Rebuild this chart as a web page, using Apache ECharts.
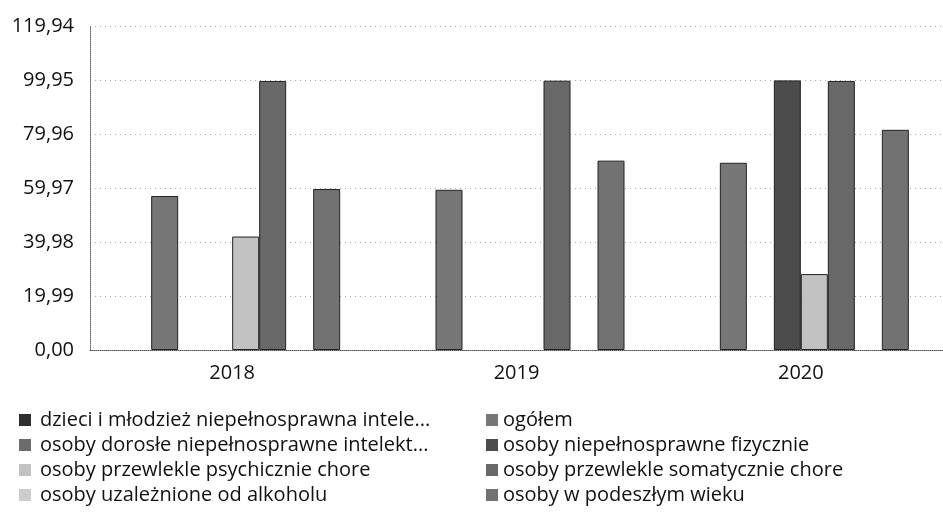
<!DOCTYPE html>
<html>
<head>
<meta charset="utf-8">
<script src="https://cdn.jsdelivr.net/npm/echarts@6/dist/echarts.min.js"></script>
<style>
  html, body { margin: 0; padding: 0; background: #fff; }
  #chart { width: 943px; height: 526px; }
</style>
</head>
<body>
<div id="chart"></div>
<script>
var years = ['2018', '2019', '2020'];
var seriesNames = [
  'dzieci i młodzież niepełnosprawna intelektualnie',
  'ogółem',
  'osoby dorosłe niepełnosprawne intelektualnie',
  'osoby niepełnosprawne fizycznie',
  'osoby przewlekle psychicznie chore',
  'osoby przewlekle somatycznie chore',
  'osoby uzależnione od alkoholu',
  'osoby w podeszłym wieku'
];
var legendLabels = [
  'dzieci i młodzież niepełnosprawna intele...',
  'ogółem',
  'osoby dorosłe niepełnosprawne intelekt...',
  'osoby niepełnosprawne fizycznie',
  'osoby przewlekle psychicznie chore',
  'osoby przewlekle somatycznie chore',
  'osoby uzależnione od alkoholu',
  'osoby w podeszłym wieku'
];
var dzieci = [null, null, null];
var ogolem = [57.0, 59.3, 69.3];
var dorosle = [null, null, null];
var fizycznie = [null, null, 99.8];
var psychicznie = [42.0, null, 28.1];
var somatycznie = [99.6, 99.7, 99.6];
var uzaleznione = [null, null, null];
var podeszly = [59.6, 70.1, 81.5];
var yTicks = [0, 19.99, 39.98, 59.97, 79.96, 99.95, 119.94];

var colors = ['#2e2e2e', '#777777', '#6c6c6c', '#4c4c4c', '#c2c2c2', '#686868', '#cdcdcd', '#727272'];
var values = [dzieci, ogolem, dorosle, fizycznie, psychicznie, somatycznie, uzaleznione, podeszly];

var series = seriesNames.map(function (name, i) {
  return {
    name: name,
    type: 'bar',
    barWidth: 27,
    barGap: '0%',
    itemStyle: { color: colors[i], borderColor: '#222', borderWidth: 1 },
    data: values[i]
  };
});

function legendFormatter(name) {
  return legendLabels[seriesNames.indexOf(name)];
}

function legendAt(left, padLeft, names) {
  return {
    orient: 'vertical',
    left: left,
    top: 405,
    icon: 'rect',
    itemWidth: 12,
    itemHeight: 12,
    itemGap: 5,
    itemStyle: { borderWidth: 0 },
    formatter: legendFormatter,
    textStyle: { fontFamily: 'Open Sans', fontSize: 20, color: '#111', lineHeight: 20, padding: [0, 0, 0, padLeft] },
    data: names
  };
}

var myChart = echarts.init(document.getElementById('chart'));
var option = {
  animation: false,
  color: colors,
  legend: [
    legendAt(14, 4, [seriesNames[0], seriesNames[2], seriesNames[4], seriesNames[6]]),
    legendAt(481, 0, [seriesNames[1], seriesNames[3], seriesNames[5], seriesNames[7]])
  ],
  grid: { left: 90, right: 0, top: 26, bottom: 176, containLabel: false },
  xAxis: {
    type: 'category',
    data: years,
    axisTick: { show: false },
    axisLine: { lineStyle: { color: '#555', type: 'dotted', width: 1 } },
    axisLabel: { fontFamily: 'Open Sans', fontSize: 20, color: '#111', margin: 13 }
  },
  yAxis: {
    type: 'value',
    min: yTicks[0],
    max: yTicks[yTicks.length - 1],
    interval: yTicks[1],
    axisLine: { show: true, lineStyle: { color: '#666', type: 'dotted', width: 1 } },
    axisTick: { show: false },
    splitLine: { lineStyle: { color: '#aaa', type: [1, 4], width: 1 } },
    axisLabel: {
      fontFamily: 'Open Sans', fontSize: 20, color: '#111', margin: 16,
      formatter: function (v) { return v.toFixed(2).replace('.', ','); }
    }
  },
  series: series
};
myChart.setOption(option);
</script>
</body>
</html>
